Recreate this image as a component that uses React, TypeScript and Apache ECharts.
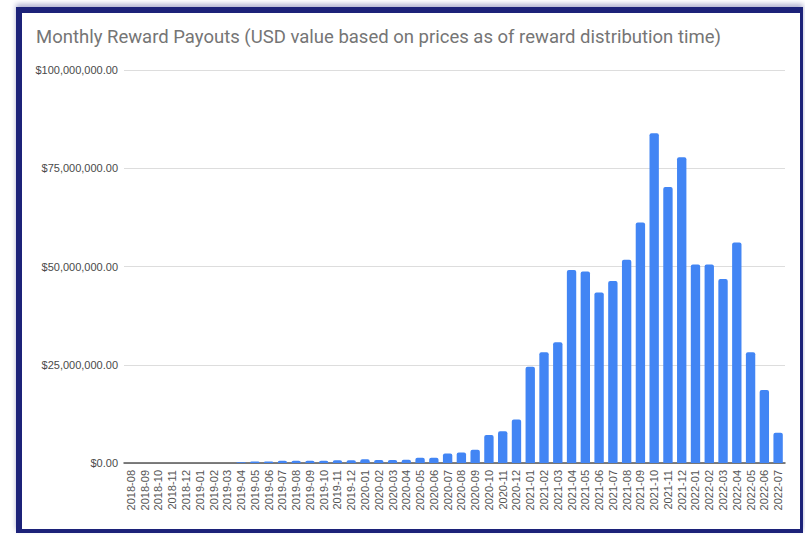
import React, { useEffect, useRef } from "react";
import * as echarts from "echarts";

const months: string[] = [
  "2018-08", "2018-09", "2018-10", "2018-11", "2018-12",
  "2019-01", "2019-02", "2019-03", "2019-04", "2019-05", "2019-06", "2019-07",
  "2019-08", "2019-09", "2019-10", "2019-11", "2019-12",
  "2020-01", "2020-02", "2020-03", "2020-04", "2020-05", "2020-06", "2020-07",
  "2020-08", "2020-09", "2020-10", "2020-11", "2020-12",
  "2021-01", "2021-02", "2021-03", "2021-04", "2021-05", "2021-06", "2021-07",
  "2021-08", "2021-09", "2021-10", "2021-11", "2021-12",
  "2022-01", "2022-02", "2022-03", "2022-04", "2022-05", "2022-06", "2022-07",
];

// Monthly reward payouts in USD
const payouts: number[] = [
  0, 0, 0, 0, 0,
  0, 0, 0, 200000, 350000, 350000, 550000,
  550000, 550000, 550000, 700000, 700000,
  950000, 750000, 750000, 800000, 1350000, 1350000, 2400000,
  2700000, 3400000, 7100000, 8100000, 11100000,
  24500000, 28200000, 30700000, 49100000, 48700000, 43400000, 46300000,
  51700000, 61200000, 83900000, 70200000, 77800000,
  50500000, 50500000, 46800000, 56100000, 28200000, 18600000, 7700000,
];

const yTicks: number[] = [0, 25000000, 50000000, 75000000, 100000000];

const titleText =
  "Monthly Reward Payouts (USD value based on prices as of reward distribution time)";

function fmtUsd(v: number): string {
  return (
    "$" +
    v.toLocaleString("en-US", { minimumFractionDigits: 2, maximumFractionDigits: 2 })
  );
}

export default function App() {
  const ref = useRef<HTMLDivElement>(null);

  useEffect(() => {
    if (!ref.current) return;
    const chart = echarts.init(ref.current, undefined, { renderer: "svg" });
    chart.setOption({
      animation: false,
      backgroundColor: "transparent",
      title: {
        text: titleText,
        left: 36,
        top: 27,
        padding: 0,
        textStyle: {
          fontFamily: "Roboto",
          fontSize: 18.5,
          fontWeight: "normal",
          color: "#757575",
        },
      },
      grid: { left: 124, right: 20, top: 70, bottom: 72, containLabel: false },
      xAxis: {
        type: "category",
        data: months,
        axisLine: { show: true, lineStyle: { color: "#555555", width: 1.5 } },
        axisTick: { show: false },
        axisLabel: {
          rotate: 90,
          interval: 0,
          margin: 7,
          fontFamily: "Arial, Liberation Sans",
          fontSize: 11,
          color: "#555555",
        },
      },
      yAxis: {
        type: "value",
        min: yTicks[0],
        max: yTicks[yTicks.length - 1],
        interval: yTicks[1] - yTicks[0],
        axisLine: { show: false },
        axisTick: { show: false },
        splitLine: { lineStyle: { color: "#dddddd", width: 1 } },
        axisLabel: {
          margin: 6,
          fontFamily: "Arial, Liberation Sans",
          fontSize: 11,
          color: "#4a4a4a",
          formatter: (v: number) => fmtUsd(v),
        },
      },
      series: [
        {
          type: "bar",
          data: payouts,
          barWidth: "68%",
          itemStyle: { color: "#4285f4", borderRadius: [2, 2, 0, 0] },
        },
      ],
    });
    return () => chart.dispose();
  }, []);

  return (
    <div
      style={{
        position: "fixed",
        left: 0,
        top: 0,
        width: 805,
        height: 535,
        background: "#ffffff",
        overflow: "hidden",
      }}
    >
      <div
        style={{
          position: "absolute",
          left: 16,
          top: 7,
          width: 787,
          height: 526,
          boxSizing: "border-box",
          borderStyle: "solid",
          borderColor: "#1c2279",
          borderTopWidth: 6,
          borderLeftWidth: 6,
          borderRightWidth: 3,
          borderBottomWidth: 4,
          boxShadow: "0 -3px 5px rgba(28,34,121,0.35)",
        }}
      />
      <div
        ref={ref}
        style={{ position: "absolute", left: 0, top: 0, width: 805, height: 535 }}
      />
    </div>
  );
}
